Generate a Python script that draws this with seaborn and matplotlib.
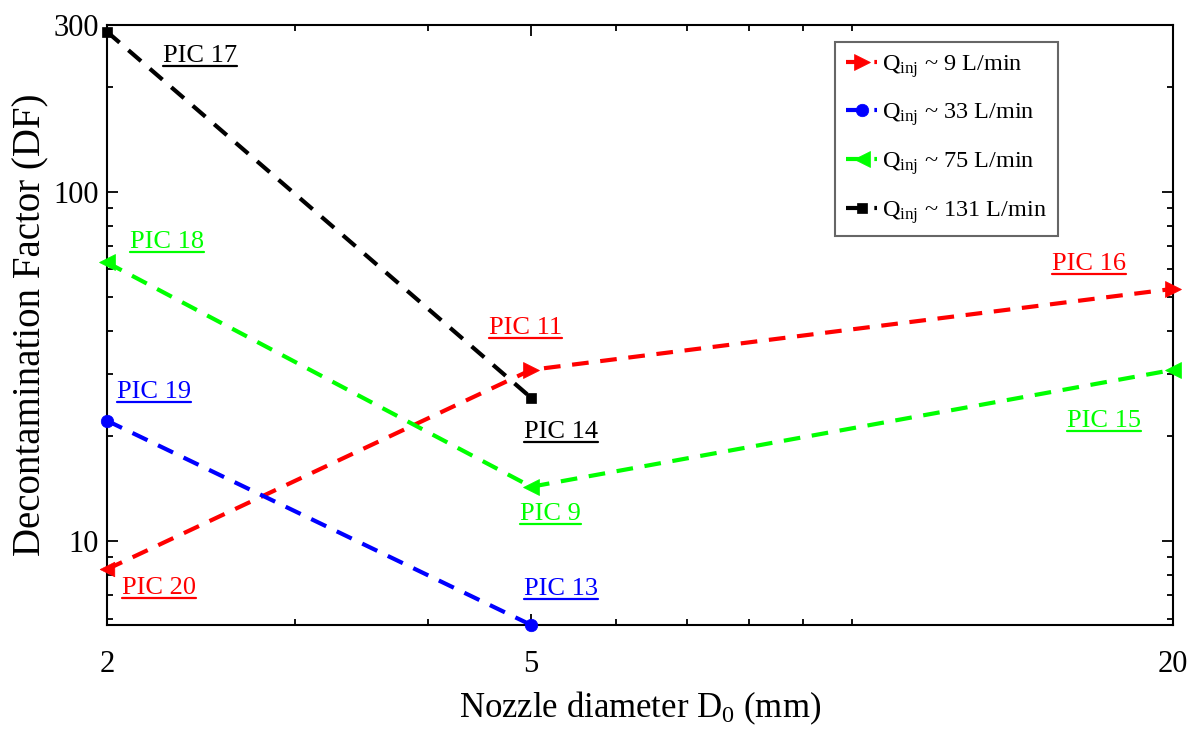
import numpy as np
import pandas as pd
import matplotlib.pyplot as plt
import seaborn as sns
from matplotlib.lines import Line2D
from matplotlib.ticker import FixedLocator, LogLocator, NullFormatter

# values (log-log)
nozzle_mm = [2, 5, 20]
nozzle_mm_short = [2, 5]
df_q9 = [8.3, 30.9, 52.7]
df_q33 = [22.1, 5.75]
df_q75 = [62.7, 14.3, 30.9]
df_q131 = [287, 25.7]

legend_labels = [r'Q$_{\mathrm{inj}}$ ~ 9 L/min',
                 r'Q$_{\mathrm{inj}}$ ~ 33 L/min',
                 r'Q$_{\mathrm{inj}}$ ~ 75 L/min',
                 r'Q$_{\mathrm{inj}}$ ~ 131 L/min']

# PIC labels: text, x, y (baseline), colour
pic_labels = ['PIC 17', 'PIC 18', 'PIC 19', 'PIC 20', 'PIC 11', 'PIC 14',
              'PIC 9', 'PIC 13', 'PIC 16', 'PIC 15']
pic_x = [2.256, 2.10, 2.043, 2.066, 4.56, 4.92, 4.88, 4.92, 15.4, 15.9]
pic_y = [235, 69.0, 25.7, 7.05, 39.1, 19.7, 11.5, 7.0, 59.7, 21.2]
pic_colors = ['black', '#00ff00', '#0000ff', '#ff0000', '#ff0000', 'black',
              '#00ff00', '#0000ff', '#ff0000', '#00ff00']

sns.set_style('ticks')
plt.rcParams['font.family'] = ['Liberation Serif', 'DejaVu Serif']
plt.rcParams['mathtext.fontset'] = 'custom'
plt.rcParams['mathtext.rm'] = 'Liberation Serif'
plt.rcParams['mathtext.it'] = 'Liberation Serif:italic'
plt.rcParams['mathtext.bf'] = 'Liberation Serif:bold'
plt.rcParams['text.color'] = 'black'
plt.rcParams['axes.labelcolor'] = 'black'
plt.rcParams['xtick.color'] = 'black'
plt.rcParams['ytick.color'] = 'black'

fig, ax = plt.subplots(figsize=(11.95, 7.35), dpi=100)
fig.subplots_adjust(left=0.0895, right=0.9816, top=0.966, bottom=0.1497)

dash = (0, (4, 2.8))
series = [
    (nozzle_mm, df_q9, '#ff0000', '>', 11),
    (nozzle_mm_short, df_q33, '#0000ff', 'o', 9),
    (nozzle_mm, df_q75, '#00ff00', '<', 11),
    (nozzle_mm_short, df_q131, 'black', 's', 7),
]
for i, ((xs, ys, col, mk, ms), lab) in enumerate(zip(series, legend_labels)):
    # first red point is drawn pointing left in the reference
    every = [1, 2] if i == 0 else None
    sns.lineplot(x=xs, y=ys, ax=ax, color=col, marker=mk, markersize=ms,
                 markeredgecolor=col, markeredgewidth=0.5, linewidth=3,
                 linestyle=dash, label=lab, clip_on=False, zorder=3,
                 markevery=every)
sns.scatterplot(x=nozzle_mm[:1], y=df_q9[:1], ax=ax, color='#ff0000',
                marker='<', s=110, edgecolor='#ff0000', linewidth=0.5,
                clip_on=False, zorder=4, legend=False)

ax.set_xscale('log')
ax.set_yscale('log')
ax.set_xlim(2, 20)
ax.set_ylim(5.75, 300)

ax.xaxis.set_major_locator(FixedLocator([2, 5, 20]))
ax.set_xticklabels(['2', '5', '20'])
ax.xaxis.set_minor_locator(LogLocator(base=10, subs=np.arange(1, 10)))
ax.xaxis.set_minor_formatter(NullFormatter())
ax.yaxis.set_major_locator(FixedLocator([10, 100, 300]))
ax.set_yticklabels(['10', '100', '300'])
ax.yaxis.set_minor_locator(LogLocator(base=10, subs=np.arange(1, 10)))
ax.yaxis.set_minor_formatter(NullFormatter())

ax.tick_params(which='both', direction='in', top=True, right=True,
               labelsize=22, width=1.3, color='black')
ax.tick_params(which='major', length=8)
ax.tick_params(axis='x', which='major', pad=18)
ax.tick_params(axis='y', which='major', pad=6)
ax.tick_params(which='minor', length=4)
for sp in ax.spines.values():
    sp.set_linewidth(1.5)
    sp.set_color('black')

ax.set_xlabel(r'Nozzle diameter D$_0$ (mm)', fontsize=25, labelpad=8)
ax.set_ylabel('Decontamination Factor (DF)', fontsize=28, labelpad=3)

texts = []
for t, x, y, c in zip(pic_labels, pic_x, pic_y, pic_colors):
    texts.append(ax.text(x, y, t, color=c, fontsize=19,
                         ha='left', va='baseline'))

leg = ax.legend(loc='upper left', bbox_to_anchor=(0.683, 0.972),
                borderaxespad=0, fontsize=17.5, frameon=True, fancybox=False,
                handlelength=1.28, handletextpad=0.2, labelspacing=0.9,
                borderpad=0.45)
leg.get_frame().set_edgecolor('#404040')
leg.get_frame().set_linewidth(1.5)

# underline the PIC labels
fig.canvas.draw()
renderer = fig.canvas.get_renderer()
W, H = fig.bbox.width, fig.bbox.height
for txt, x, y, c in zip(texts, pic_x, pic_y, pic_colors):
    bb = txt.get_window_extent(renderer)
    base = ax.transData.transform((x, y))[1] - 4
    fig.add_artist(Line2D([bb.x0 / W, bb.x1 / W], [base / H, base / H],
                          transform=fig.transFigure, color=c, lw=1.6))

plt.savefig('out.png', dpi=100)
